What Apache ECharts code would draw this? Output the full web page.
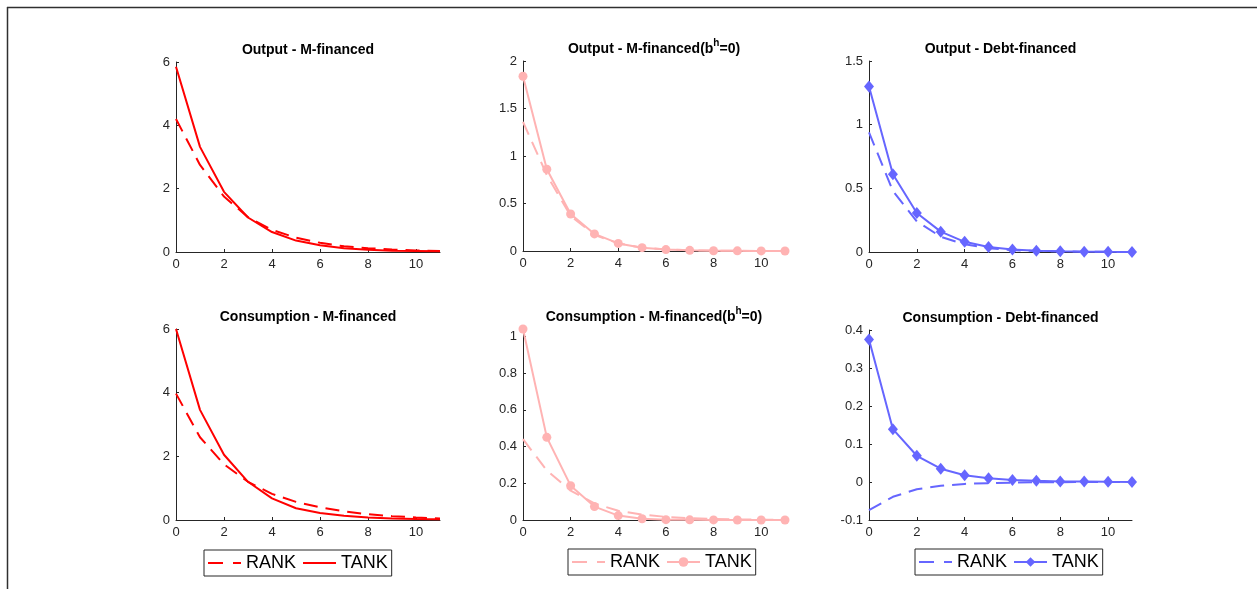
<!DOCTYPE html>
<html>
<head>
<meta charset="utf-8">
<script src="https://cdn.jsdelivr.net/npm/echarts@6/dist/echarts.min.js"></script>
<style>
html,body{margin:0;padding:0;background:#fff;}
#chart{width:1257px;height:589px;}
</style>
</head>
<body>
<div id="chart"></div>
<script>
// ---- data ----
const periods = [0,1,2,3,4,5,6,7,8,9,10,11];
const xTicks = [0,2,4,6,8,10];

const outputM_RANK  = [4.20,2.75,1.75,1.10,0.70,0.45,0.29,0.18,0.12,0.08,0.05,0.03];
const outputM_TANK  = [5.85,3.32,1.90,1.09,0.63,0.36,0.21,0.12,0.07,0.04,0.03,0.02];

const outputM0_RANK = [1.36,0.80,0.37,0.17,0.08,0.035,0.016,0.008,0.004,0.002,0.001,0.0005];
const outputM0_TANK = [1.84,0.86,0.39,0.18,0.08,0.035,0.015,0.007,0.003,0.0015,0.0007,0.0003];

const outputD_RANK  = [0.94,0.48,0.24,0.12,0.06,0.03,0.015,0.008,0.004,0.002,0.001,0.0005];
const outputD_TANK  = [1.30,0.61,0.306,0.16,0.08,0.04,0.02,0.01,0.005,0.0025,0.0012,0.0006];

const consM_RANK    = [3.97,2.60,1.75,1.20,0.82,0.57,0.40,0.27,0.18,0.12,0.08,0.05];
const consM_TANK    = [6.00,3.46,2.05,1.20,0.68,0.37,0.22,0.13,0.08,0.05,0.03,0.02];

const consM0_RANK   = [0.44,0.27,0.16,0.09,0.05,0.03,0.017,0.01,0.006,0.003,0.002,0.001];
const consM0_TANK   = [1.04,0.45,0.187,0.073,0.024,0.007,0.002,0.001,0.0005,0.0002,0.0001,0.0];

const consD_RANK    = [-0.074,-0.039,-0.019,-0.010,-0.005,-0.003,-0.0015,-0.0008,-0.0004,-0.0002,-0.0001,0.0];
const consD_TANK    = [0.375,0.139,0.069,0.035,0.018,0.0097,0.005,0.003,0.0015,0.001,0.0005,0.0002];

const titles = [
  '{b|Output - M-financed}',
  '{b|Output - M-financed(b}{s|h}{b|=0)}',
  '{b|Output - Debt-financed}',
  '{b|Consumption - M-financed}',
  '{b|Consumption - M-financed(b}{s|h}{b|=0)}',
  '{b|Consumption - Debt-financed}'
];
const legendNames = ['RANK','TANK'];

// ---- layout / style ----
const RED = '#ff0000', PINK = '#ffb3b3', BLUE = '#6666ff';
const AXC = '#262626';
const FONT = "'Liberation Sans', Arial, Helvetica, sans-serif";
const DASH = [14,8];

const panels = [
  {left:176, top:62, width:264, height:190, ymin:0, ymax:6,   yint:2,   color:RED,  sym:'none',    rank:outputM_RANK,  tank:outputM_TANK},
  {left:523, top:61, width:262, height:190, ymin:0, ymax:2,   yint:0.5, color:PINK, sym:'circle',  rank:outputM0_RANK, tank:outputM0_TANK},
  {left:869, top:61, width:263, height:191, ymin:0, ymax:1.5, yint:0.5, color:BLUE, sym:'diamond', rank:outputD_RANK,  tank:outputD_TANK},
  {left:176, top:329,width:264, height:191, ymin:0, ymax:6,   yint:2,   color:RED,  sym:'none',    rank:consM_RANK,    tank:consM_TANK},
  {left:523, top:329,width:262, height:191, ymin:0, ymax:1.04,yint:0.2, color:PINK, sym:'circle',  rank:consM0_RANK,   tank:consM0_TANK, yticks:[0,0.2,0.4,0.6,0.8,1]},
  {left:869, top:330,width:263, height:190, ymin:-0.1,ymax:0.4,yint:0.1,color:BLUE, sym:'diamond', rank:consD_RANK,    tank:consD_TANK}
];
const legendPos = [{left:204, top:550},{left:568, top:549},{left:915, top:549}];
const symSize = {none:0, circle:9, diamond:[10,12]};

const grid = [], xAxis = [], yAxis = [], series = [], legend = [], graphic = [];
const suffix = ['', '\u200b', '\u200b\u200b'];

panels.forEach((p, i) => {
  grid.push({left:p.left, top:p.top, width:p.width, height:p.height, containLabel:false});
  xAxis.push({
    type:'value', gridIndex:i, min:0, max:11, interval:1,
    axisLine:{show:true, onZero:false, lineStyle:{color:AXC, width:1}},
    axisTick:{show:true, inside:true, length:3, customValues:xTicks, lineStyle:{color:AXC}},
    axisLabel:{show:true, customValues:xTicks, color:AXC, fontSize:13, fontFamily:FONT, margin:6},
    splitLine:{show:false}
  });
  const yAx = {
    type:'value', gridIndex:i, min:p.ymin, max:p.ymax, interval:p.yint,
    axisLine:{show:true, onZero:false, lineStyle:{color:AXC, width:1}},
    axisTick:{show:true, inside:true, length:3, lineStyle:{color:AXC}},
    axisLabel:{show:true, color:AXC, fontSize:13, fontFamily:FONT, margin:6},
    splitLine:{show:false}
  };
  if (p.yticks) { yAx.axisTick.customValues = p.yticks; yAx.axisLabel.customValues = p.yticks; }
  yAxis.push(yAx);

  const col = i % 3;
  const nmR = legendNames[0] + suffix[col];
  const nmT = legendNames[1] + suffix[col];
  series.push({
    type:'line', name:nmR, xAxisIndex:i, yAxisIndex:i,
    data: periods.map((x,k)=>[x, p.rank[k]]),
    symbol:'none', showSymbol:false,
    lineStyle:{color:p.color, width:2, type:DASH},
    itemStyle:{color:p.color},
    silent:true, z:2
  });
  series.push({
    type:'line', name:nmT, xAxisIndex:i, yAxisIndex:i,
    data: periods.map((x,k)=>[x, p.tank[k]]),
    symbol:p.sym, symbolSize:symSize[p.sym], showSymbol:p.sym!=='none', showAllSymbol:true,
    lineStyle:{color:p.color, width:2, type:'solid'},
    itemStyle:{color:p.color, borderWidth:0},
    silent:true, z:3
  });
  if (i < 3) {
    legend.push({
      data:[
        {name:nmR, itemStyle:{color:p.color, opacity:0}, lineStyle:{color:p.color, width:2, type:[15,10]}},
        {name:nmT, itemStyle:{color:p.color, opacity:p.sym==='none'?0:1}, lineStyle:{color:p.color, width:2, type:'solid'}}
      ],
      left:legendPos[i].left, top:legendPos[i].top,
      orient:'horizontal', itemWidth:33, itemHeight:12, itemGap:6,
      padding:[4,4,4,3], borderColor:AXC, borderWidth:1, backgroundColor:'#fff',
      textStyle:{color:'#000', fontSize:18, fontFamily:FONT},
      formatter: n => n.replace(/\u200b/g,''),
      selectedMode:false
    });
  }
  graphic.push({
    type:'text', x:p.left + p.width/2, y:p.top - 14,
    style:{
      text:titles[i], align:'center', verticalAlign:'middle',
      rich:{
        b:{fontSize:14, fontWeight:'bold', fontFamily:FONT, fill:'#000', lineHeight:18, verticalAlign:'bottom'},
        s:{fontSize:10, fontWeight:'bold', fontFamily:FONT, fill:'#000', lineHeight:10, verticalAlign:'top'}
      }
    }
  });
});

// figure frame lines
graphic.push({type:'line', shape:{x1:7, y1:7.5, x2:1257, y2:7.5}, style:{stroke:'#303030', lineWidth:1.5}});
graphic.push({type:'line', shape:{x1:7.5, y1:7, x2:7.5, y2:589}, style:{stroke:'#303030', lineWidth:1.5}});

const chart = echarts.init(document.getElementById('chart'), null, {renderer:'canvas'});
chart.setOption({
  animation:false,
  backgroundColor:'#fff',
  grid, xAxis, yAxis, series, legend, graphic
});
</script>
</body>
</html>
